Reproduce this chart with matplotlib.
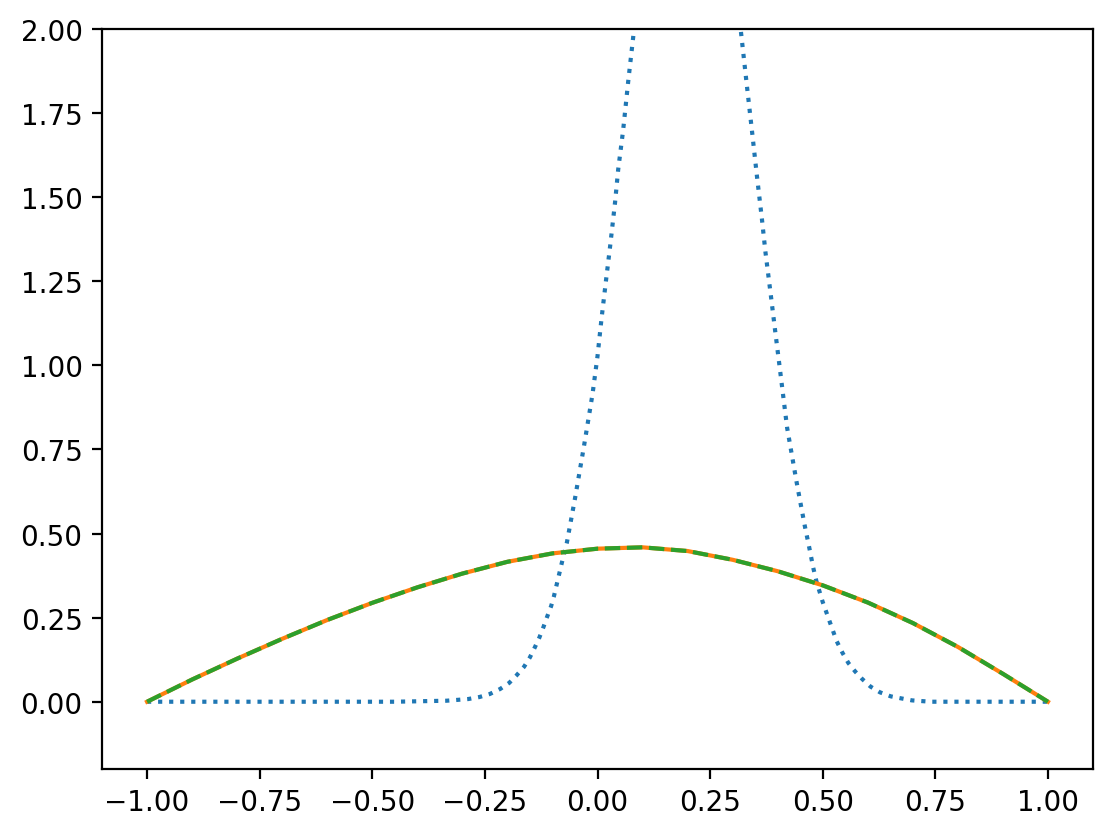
import numpy as np
import matplotlib
matplotlib.use('Agg')
import matplotlib.pyplot as plt

# values
x_peak = [-1.0, -0.45, -0.335, -0.287, -0.262, -0.239, -0.216, -0.196, -0.180, -0.163,
          -0.150, -0.139, -0.129, -0.120, -0.112, -0.103, -0.097, -0.079, -0.068, -0.050,
          -0.030, -0.011, 0.000, 0.009, 0.019, 0.028, 0.039, 0.046, 0.057, 0.068, 0.079,
          0.12, 0.20, 0.28, 0.3185, 0.332, 0.343, 0.354, 0.365, 0.373, 0.385, 0.394,
          0.403, 0.412, 0.421, 0.442, 0.451, 0.460, 0.470, 0.479, 0.486, 0.4996, 0.516,
          0.531, 0.544, 0.557, 0.572, 0.588, 0.606, 0.627, 0.651, 0.674, 0.698, 0.74, 1.0]
y_peak = [0.0, 0.0, 0.003, 0.008, 0.014, 0.023, 0.038, 0.056, 0.078, 0.104,
          0.132, 0.162, 0.191, 0.222, 0.252, 0.284, 0.312, 0.414, 0.473, 0.604,
          0.760, 0.915, 1.027, 1.140, 1.254, 1.354, 1.485, 1.583, 1.700, 1.842, 1.973,
          2.5, 3.0, 2.5, 1.991, 1.827, 1.696, 1.562, 1.435, 1.335, 1.206, 1.107,
          1.010, 0.912, 0.814, 0.653, 0.588, 0.524, 0.459, 0.398, 0.358, 0.298, 0.236,
          0.180, 0.145, 0.115, 0.090, 0.067, 0.045, 0.028, 0.016, 0.010, 0.004, 0.0, 0.0]

x_smooth = [-1.0, -0.9, -0.8, -0.7, -0.6, -0.5, -0.4, -0.3, -0.2, -0.1, 0.0,
            0.1, 0.2, 0.3, 0.4, 0.5, 0.6, 0.7, 0.8, 0.9, 1.0]
y_smooth = [0.0, 0.066, 0.128, 0.187, 0.243, 0.294, 0.340, 0.381, 0.416, 0.441, 0.455,
            0.459, 0.448, 0.422, 0.388, 0.346, 0.295, 0.234, 0.163, 0.083, 0.0]

fig = plt.figure(figsize=(1113/200, 837/200), dpi=200)
ax = fig.add_axes([102/1113, 67/837, 991/1113, 740/837])

ax.plot(x_peak, y_peak, ':')
ax.plot(x_smooth, y_smooth, '-')
ax.plot(x_smooth, y_smooth, '--')
ax.set_ylim(-0.2, 2.0)

fig.savefig('out.png', dpi=200)
